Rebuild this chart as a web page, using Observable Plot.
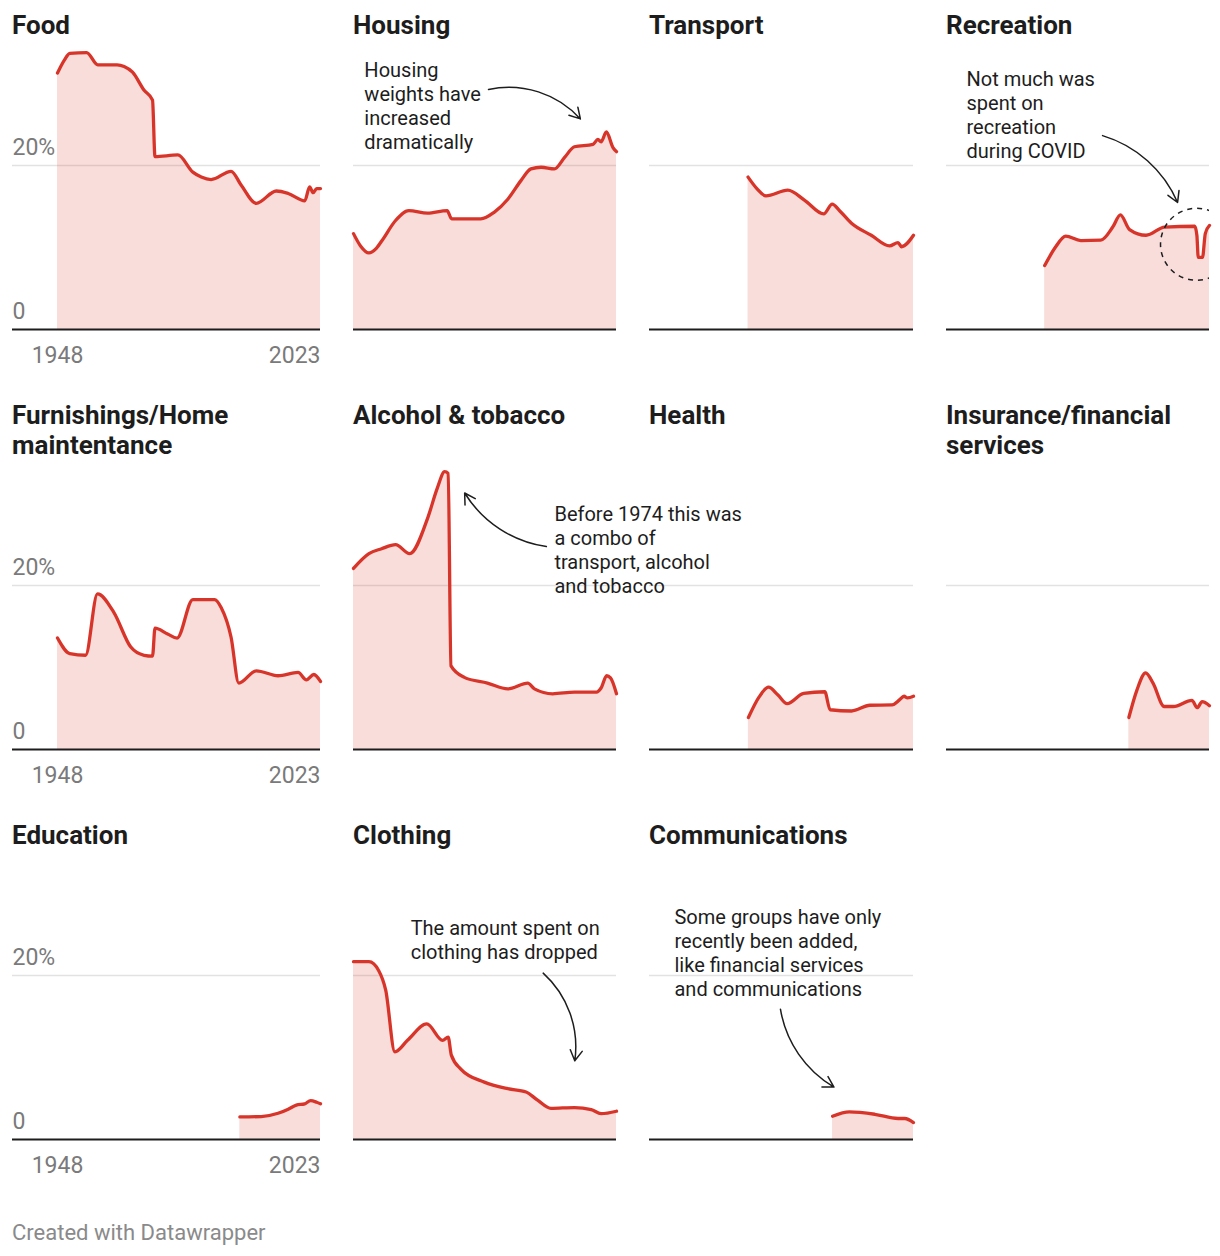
<!DOCTYPE html>
<html><head><meta charset="utf-8">
<script src="https://cdn.jsdelivr.net/npm/d3@7"></script>
<script src="https://cdn.jsdelivr.net/npm/@observablehq/plot@0.6"></script>
<style>
body{margin:0;background:#fff;font-family:Roboto,sans-serif;}
#wrap{position:relative;width:1220px;height:1256px;overflow:hidden;}
.title{position:absolute;font-weight:700;font-size:26px;line-height:30px;color:#1d1d1d;white-space:pre-line;z-index:2;}
.panel{position:absolute;}
.footer{position:absolute;left:12px;top:1220px;font-size:22px;line-height:26px;color:#8a8a8a;}
</style></head><body><div id="wrap"></div>
<script>
// ---- data: [year, % weight in CPI] ----
const food = [[1948,31.3],[1950,32.9],[1951.5,33.7],[1956.3,33.8],[1959.5,32.3],[1965,32.3],[1967,32.1],[1969.4,31.4],[1972.7,29.2],[1975.1,28.0],[1975.8,21.1],[1982.3,21.3],[1986.6,19.2],[1989,18.6],[1991.8,18.3],[1997.5,19.3],[2000.4,17.6],[2004.7,15.4],[2010.4,16.9],[2013.8,16.6],[2018.5,15.7],[2019.9,17.4],[2020.9,16.7],[2021.9,17.2],[2023,17.2]];
const housing = [[1948,11.7],[1950,10.2],[1952.4,9.35],[1954.5,9.9],[1956.2,10.9],[1960,13.3],[1963.8,14.5],[1969.1,14.2],[1974.7,14.5],[1976,13.5],[1984.3,13.5],[1988.1,14.3],[1992,15.9],[1995.8,18.2],[1998.6,19.6],[2001.5,19.8],[2005.3,19.6],[2008.2,21.0],[2011,22.3],[2016.3,22.6],[2017.7,23.2],[2018.6,22.9],[2020.1,24.1],[2022,22.2],[2023,21.7]];
const transport = [[1976,18.6],[1978.5,17.2],[1981.1,16.3],[1987.3,17.0],[1992,15.8],[1997.5,14.1],[1999.9,15.3],[2002,14.5],[2005.3,13.0],[2011,11.5],[2016.2,10.2],[2018.6,10.6],[2019.6,10.1],[2023,11.5]];
const recreation = [[1976,7.8],[1979,10.0],[1982,11.4],[1986.3,10.85],[1992,10.9],[1995.4,12.5],[1997.6,14.0],[2000.2,12.2],[2004.9,11.5],[2010.2,12.5],[2018.8,12.6],[2019.4,11.5],[2019.8,8.8],[2021,8.8],[2021.8,11.7],[2023,12.7]];
const furnishings = [[1948,13.6],[1951.5,11.7],[1956,11.5],[1959.4,19.0],[1964.1,16.7],[1968.9,12.5],[1972.7,11.5],[1975.1,11.4],[1975.8,14.8],[1979.4,14.1],[1982.1,13.6],[1986.6,18.3],[1992.8,18.3],[1994.7,17.3],[1997.5,13.7],[1999.7,8.1],[2004.7,9.6],[2010.9,9.0],[2016.6,9.4],[2019,8.5],[2021.1,9.15],[2023,8.3]];
const alcohol = [[1948,22.1],[1952.4,23.9],[1956,24.5],[1960,25.0],[1964,23.9],[1969.2,28.3],[1971.9,31.9],[1974,33.9],[1975,33.7],[1975.8,10.2],[1979.6,8.8],[1986.2,8.1],[1992,7.4],[1997.7,8.1],[1999.6,7.4],[2004.8,6.8],[2011,7.0],[2017.3,7.0],[2018.6,7.5],[2020.2,9.0],[2021.3,8.75],[2023,6.8]];
const health = [[1976.1,3.9],[1979.2,6.45],[1981.8,7.6],[1984.5,6.65],[1987.1,5.6],[1991.8,6.85],[1997.8,7.05],[1999.3,4.85],[2005.4,4.7],[2010.6,5.4],[2016.9,5.45],[2019,6.05],[2020.3,6.5],[2021.3,6.3],[2023,6.5]];
const insurance = [[2000,3.9],[2002.3,7.25],[2004.8,9.35],[2006.9,8.1],[2010.1,5.25],[2012.7,5.25],[2018,6.0],[2019.5,5.1],[2020.9,5.85],[2023,5.35]];
const education = [[2000,2.75],[2006.1,2.8],[2010.9,3.2],[2013.8,3.7],[2016.1,4.2],[2018.5,4.35],[2020.2,4.75],[2021.9,4.55],[2023,4.35]];
const clothing = [[1948,21.7],[1952.4,21.7],[1955.2,20.6],[1957.2,18.2],[1959.8,10.7],[1963.4,12.1],[1968.9,14.1],[1973.4,12.1],[1975,12.5],[1975.9,10.3],[1978.6,8.6],[1985.3,7.0],[1992,6.2],[1997.2,5.8],[2000.5,4.8],[2004.3,3.8],[2011,3.9],[2015.8,3.65],[2018.6,3.15],[2023,3.45]];
const communications = [[2000,2.84],[2004.8,3.37],[2012,3.08],[2018.6,2.56],[2020.5,2.56],[2023,2.07]];

const titles = ["Food","Housing","Transport","Recreation","Furnishings/Home\nmaintentance","Alcohol & tobacco","Health","Insurance/financial\nservices","Education","Clothing","Communications"];
const series = [food,housing,transport,recreation,furnishings,alcohol,health,insurance,education,clothing,communications];
const yTicks = [0, 20];
const xTickFirst = [1948];
const xTickLast = [2023];

// annotations (data coordinates)
const notes = [
  {panel:"Housing", x:1951.1, y:27.3, text:"Housing\nweights have\nincreased\ndramatically"},
  {panel:"Recreation", x:1953.7, y:26.3, text:"Not much was\nspent on\nrecreation\nduring COVID"},
  {panel:"Alcohol & tobacco", x:2005.3, y:24.4, text:"Before 1974 this was\na combo of\ntransport, alcohol\nand tobacco"},
  {panel:"Clothing", x:1964.3, y:24.4, text:"The amount spent on\nclothing has dropped"},
  {panel:"Communications", x:1955.1, y:22.9, text:"Some groups have only\nrecently been added,\nlike financial services\nand communications"}
];
const arrows = [
  {panel:"Housing", x1:1986.5, y1:29.3, x2:2012.7, y2:25.7, bend:30},
  {panel:"Recreation", x1:1992.5, y1:23.66, x2:2013.9, y2:15.5, bend:25},
  {panel:"Alcohol & tobacco", x1:2003.0, y1:24.76, x2:1979.7, y2:31.3, bend:25},
  {panel:"Clothing", x1:2002.1, y1:20.3, x2:2011.1, y2:9.6, bend:28},
  {panel:"Communications", x1:1985.2, y1:15.9, x2:2000.4, y2:6.4, bend:-25}
];
const circles = [{panel:"Recreation", x:2019.3, y:10.4}];

// ---- layout ----
const colLeft = [12, 353, 649, 946];
const colWidth = [308, 263, 264, 263];
const rowBase = [329, 749, 1139];
const titleTop = [10, 400, 820];
const plotH = 295, marginB = 40;
const RED = "#d8352a";
const GREY = "#7a7a7a";
const wrap = document.getElementById("wrap");

series.forEach((data, i) => {
  const col = i % 4, row = Math.floor(i / 4);
  const name = titles[i];
  const t = document.createElement("div");
  t.className = "title";
  t.style.left = colLeft[col] + "px";
  t.style.top = titleTop[row] + "px";
  t.textContent = name;
  wrap.appendChild(t);

  const first = col === 0;
  const x0 = first ? 1948 - 45 * 75 / 263 : 1948;
  const marks = [
    Plot.ruleY([20], {stroke:"#e2e2e2", strokeWidth:1.5}),
    Plot.areaY(data, {x: d => d[0], y: d => d[1], fill: RED, fillOpacity: 0.17, curve: "monotone-x"}),
    Plot.lineY(data, {x: d => d[0], y: d => d[1], stroke: RED, strokeWidth: 3.3, curve: "monotone-x"}),
    Plot.ruleY([0], {stroke:"#1d1d1d", strokeWidth:2})
  ];
  if (first) {
    marks.push(Plot.text(yTicks, {y: d => d, text: d => d === 0 ? "0" : d + "%", frameAnchor: "left", textAnchor: "start", lineAnchor: "middle", dy: -17.5, fontSize: 23, fill: GREY}));
    marks.push(Plot.text(xTickFirst, {x: d => d, text: d => String(d), frameAnchor: "bottom", lineAnchor: "middle", textAnchor: "middle", dy: 26, fontSize: 23, fill: GREY}));
    marks.push(Plot.text(xTickLast, {x: d => d, text: d => String(d), frameAnchor: "bottom", lineAnchor: "middle", textAnchor: "end", dy: 26, fontSize: 23, fill: GREY}));
  }
  const myNotes = notes.filter(n => n.panel === name);
  const myArrows = arrows.filter(n => n.panel === name);
  const myCircles = circles.filter(n => n.panel === name);
  if (myCircles.length) marks.push(Plot.dot(myCircles, {x:"x", y:"y", r:36, stroke:"#1d1d1d", strokeWidth:1.5, strokeDasharray:"5,5", fill:"none", clip:true}));
  myArrows.forEach(a => marks.push(Plot.arrow([a], {x1:"x1", y1:"y1", x2:"x2", y2:"y2", bend:a.bend, stroke:"#1d1d1d", strokeWidth:1.5, headLength:12, inset:0})));
  if (myNotes.length) marks.push(Plot.text(myNotes, {x:"x", y:"y", text:"text", textAnchor:"start", lineAnchor:"middle", lineHeight:1.2, fontSize:20, fill:"#1d1d1d"}));

  const svg = Plot.plot({
    width: colWidth[col], height: plotH + marginB,
    marginTop: 0, marginBottom: marginB, marginLeft: 0, marginRight: 0,
    x: {domain: [x0, 2023], axis: null},
    y: {domain: [0, 36], axis: null},
    style: {background: "transparent", overflow: "visible", fontFamily: "Roboto, sans-serif"},
    marks
  });
  const p = document.createElement("div");
  p.className = "panel";
  p.style.left = colLeft[col] + "px";
  p.style.top = (rowBase[row] - plotH) + "px";
  p.style.zIndex = name === "Alcohol & tobacco" ? 3 : 1;
  p.appendChild(svg);
  wrap.appendChild(p);
});

const f = document.createElement("div");
f.className = "footer";
f.textContent = "Created with Datawrapper";
wrap.appendChild(f);
</script></body></html>
